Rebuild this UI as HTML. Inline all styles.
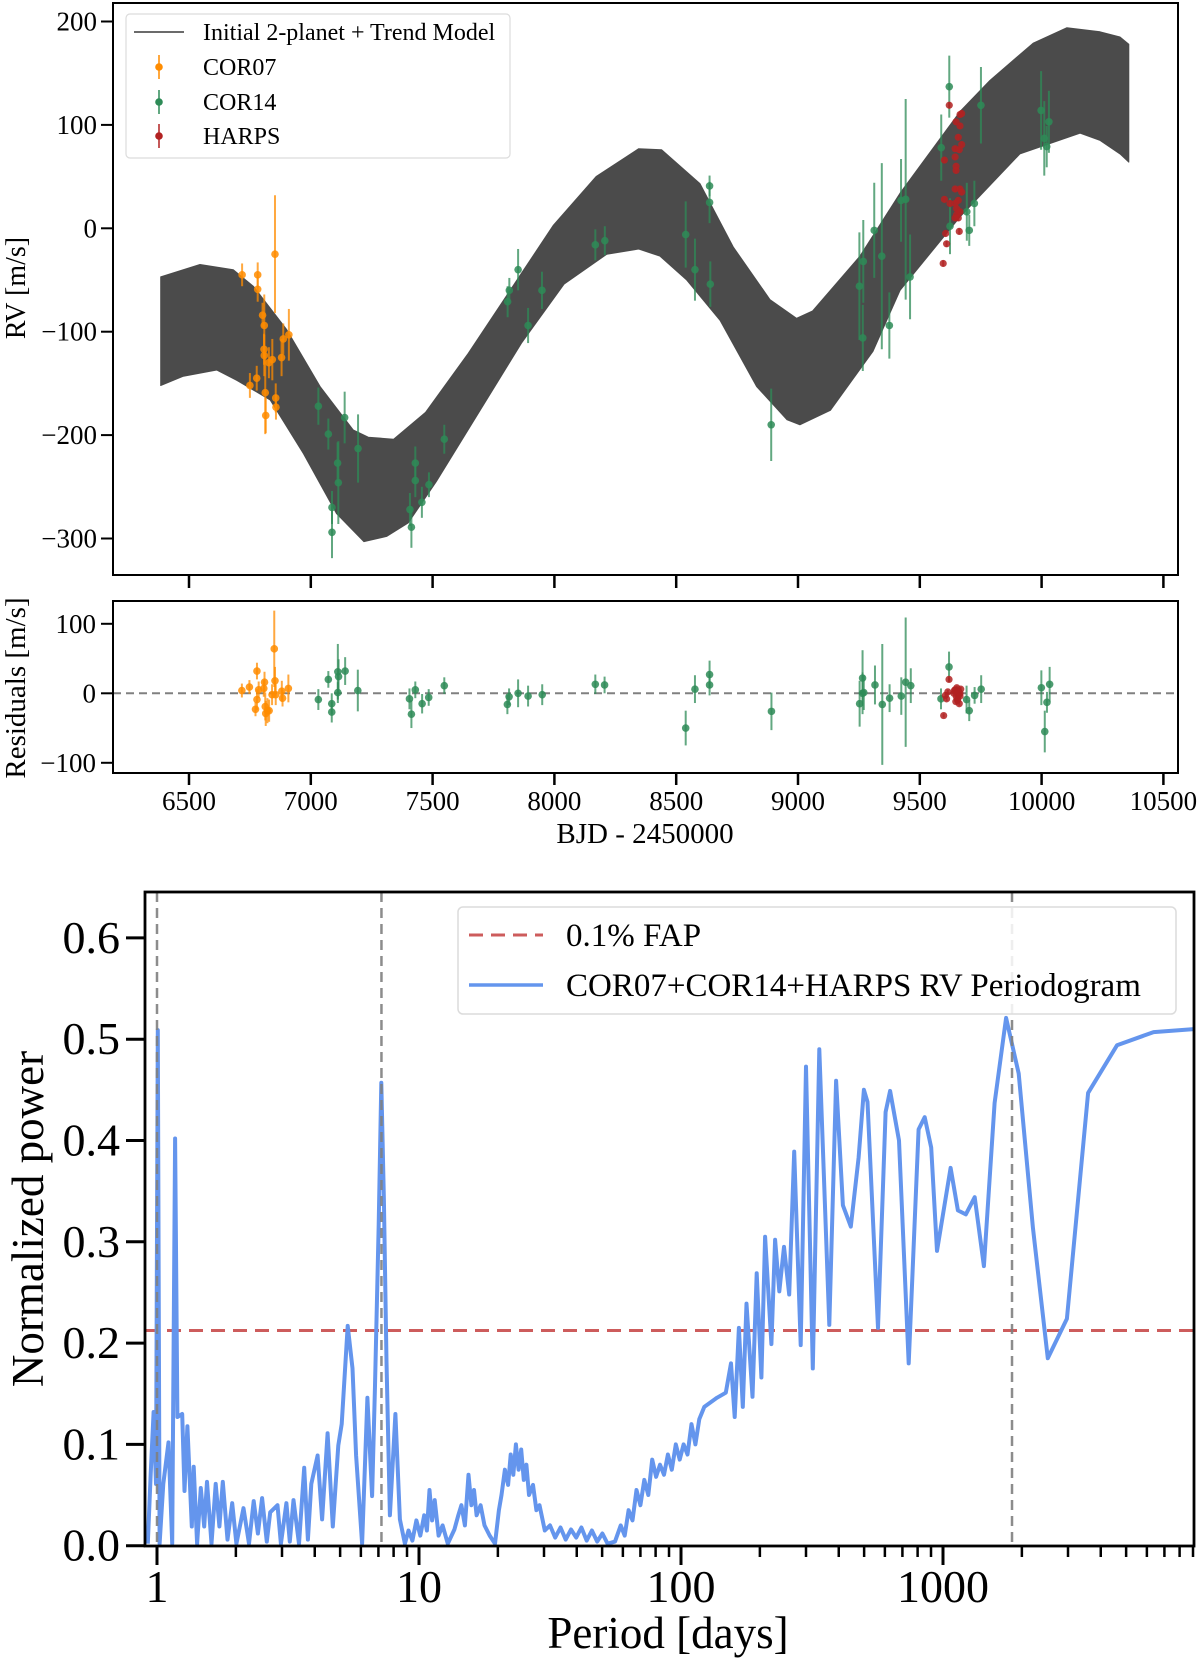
<!DOCTYPE html>
<html><head><meta charset="utf-8">
<style>
html,body{margin:0;padding:0;background:#fff;}
svg{display:block;font-family:"Liberation Serif","DejaVu Serif",serif;}
</style></head>
<body>
<svg id="chart" width="1200" height="1669" viewBox="0 0 1200 1669" xmlns="http://www.w3.org/2000/svg">
  <rect x="0" y="0" width="1200" height="1669" fill="#fff"/>
  <g id="gTop"></g>
  <g id="gRes"></g>
  <g id="gPer"></g>
  <text x="25" y="288" transform="rotate(-90 25 288)" font-size="28" text-anchor="middle">RV [m/s]</text>
  <text x="25" y="688" transform="rotate(-90 25 688)" font-size="29" text-anchor="middle">Residuals [m/s]</text>
  <text x="645" y="843" font-size="29" text-anchor="middle">BJD - 2450000</text>
  <text x="43" y="1219" transform="rotate(-90 43 1219)" font-size="45" text-anchor="middle">Normalized power</text>
  <text x="668" y="1648" font-size="45" text-anchor="middle">Period [days]</text>
</svg>
<script>
// ---------- RV panel data ----------
const bandUpperTime = [6384,6545,6627,6682,6764,6901,7038,7174,7236,7340,7471,7646,7821,7996,8171,8346,8440,8598,8734,8885,8994,9060,9254,9419,9665,9788,9965,10104,10240,10322,10358];
const bandUpperRV = [-47,-35,-38,-40,-56,-98,-153,-195,-202,-204,-178,-121,-59,3,50,77,76,43,-18,-69,-87,-80,-27,34,113,143,179,194,190,185,178];
const bandLowerTime = [6384,6477,6614,6696,6833,6970,7106,7218,7311,7400,7515,7690,7865,8040,8215,8346,8434,8543,8680,8830,8954,9008,9133,9308,9419,9665,9911,10158,10240,10322,10358];
const bandLowerRV = [-152,-143,-137,-147,-166,-218,-276,-303,-298,-285,-245,-178,-111,-54,-25,-20,-27,-50,-89,-153,-185,-190,-176,-119,-60,11,72,92,85,72,64];

const cor07Time = [6718,6782,6782,6853,6802,6809,6887,6910,6808,6809,6880,6842,6828,6778,6750,6813,6856,6857,6815];
const cor07RV = [-45,-45,-59,-25,-84,-94,-107,-103,-117,-123,-125,-127,-130,-145,-152,-159,-164,-173,-181];
const cor07Err = [11,12,12,57,12,30,15,25,15,20,18,20,15,12,12,40,14,12,17];

const cor14Time = [7031,7072,7139,7110,7113,7194,7087,7087,7407,7413,7429,7429,7456,7485,7548,7808,7815,7851,7892,7949,8168,8207,8539,8577,8640,8637,8637,8890,9252,9268,9266,9313,9344,9375,9423,9442,9460,9588,9621,9624,9693,9703,9724,9751,9998,10030,10011,10021];
const cor14RV = [-172,-199,-183,-227,-246,-213,-270,-294,-272,-289,-227,-244,-265,-248,-204,-71,-60,-40,-94,-60,-16,-12,-6,-40,-54,25,41,-190,-56,-32,-106,-2,-27,-94,27,28,-47,78,137,2,16,-2,24,119,114,103,87,79];
const cor14Err = [18,15,25,20,40,33,16,25,16,20,16,16,15,12,14,15,12,20,17,18,15,14,32,30,22,20,10,35,52,40,32,46,90,32,40,97,41,32,30,27,28,15,22,37,38,30,36,20];

const harpsTime = [9621,9665,9672,9649,9665,9658,9672,9645,9662,9601,9645,9649,9649,9645,9665,9672,9601,9658,9645,9624,9651,9665,9651,9658,9645,9606,9662,9610,9596];
const harpsRV = [119,110,111,103,99,88,81,77,76,66,69,60,56,38,38,35,28,27,24,24,19,16,13,10,10,-5,-3,-15,-34];

// ---------- residuals data ----------
const cor07ResTime = [6717,6748,6779,6779,6773,6786,6807,6810,6813,6815,6822,6829,6841,6850,6853,6856,6881,6884,6908];
const cor07Res = [4,9,32,-9,-23,5,7,16,-19,-29,-25,-25,-2,64,18,-2,3,-7,7];
const cor07ResErr = [10,10,12,15,10,12,12,15,20,18,18,16,15,55,20,15,15,12,20];
const cor14ResTime = [7031,7072,7086,7086,7111,7114,7111,7141,7193,7405,7413,7429,7457,7484,7548,7807,7814,7851,7892,7950,8168,8206,8539,8577,8637,8637,8891,9253,9265,9265,9270,9316,9346,9376,9424,9442,9463,9587,9620,9692,9703,9725,9752,9999,10022,10013,10033];
const cor14Res = [-9,20,-15,-27,31,24,1,32,4,-8,-30,5,-15,-6,11,-16,-5,0,-4,-2,13,12,-50,6,27,12,-26,-15,22,0,1,12,-16,-7,-4,16,11,-8,38,-9,-25,-3,6,8,-13,-55,13];
const cor14ResErr = [15,12,15,15,40,25,15,20,30,15,20,12,14,12,12,14,12,20,15,15,14,12,25,20,20,15,27,33,40,30,25,28,87,20,27,93,25,15,22,20,15,12,20,25,15,30,25];
const harpsResTime = [9620,9598,9605,9610,9615,9640,9645,9650,9652,9655,9658,9660,9662,9665,9668,9648,9655,9660,9665,9642];
const harpsRes = [20,-32,-3,-8,2,0,5,-5,8,-10,3,-2,-15,0,6,-12,-8,2,-4,4];

// ---------- periodogram data ----------
const periodLog10 = [-0.035,-0.024,-0.013,-0.004,0.003,0.010,0.024,0.044,0.058,0.069,0.078,0.096,0.105,0.116,0.133,0.140,0.153,0.167,0.180,0.191,0.208,0.224,0.238,0.251,0.269,0.287,0.303,0.330,0.351,0.369,0.385,0.401,0.419,0.432,0.460,0.473,0.494,0.507,0.521,0.542,0.562,0.576,0.589,0.613,0.630,0.651,0.671,0.692,0.705,0.728,0.746,0.760,0.783,0.803,0.821,0.832,0.846,0.856,0.866,0.876,0.889,0.910,0.927,
 0.946,0.960,0.975,0.990,1.005,1.020,1.030,1.040,1.050,1.060,1.075,1.090,1.110,1.135,1.150,1.162,1.175,1.189,1.200,1.210,1.220,1.235,1.250,1.270,1.290,1.305,1.315,1.328,1.340,1.350,1.360,1.370,1.380,1.390,1.400,1.410,1.420,1.435,1.448,1.460,1.480,1.500,1.520,1.540,1.560,1.580,1.600,1.620,1.640,1.660,1.680,1.700,1.720,1.748,1.770,1.785,1.800,1.815,1.830,1.845,1.860,1.875,1.890,1.905,1.920,1.935,1.950,1.965,1.980,1.995,2.010,2.025,2.040,2.055,2.070,
 2.089,2.137,2.171,2.191,2.205,2.221,2.236,2.250,2.273,2.289,2.307,2.321,2.345,2.359,2.375,2.393,2.413,2.432,2.457,2.477,2.503,2.528,2.566,2.592,2.618,2.648,2.678,2.698,2.712,2.752,2.781,2.798,2.832,2.869,2.907,2.930,2.955,2.977,3.029,3.057,3.087,3.121,3.156,3.197,3.241,3.289,3.343,3.400,3.473,3.554,3.664,3.804,3.957];
const powerValues = [0.002,0.071,0.132,0.061,0.509,0.002,0.061,0.102,0.002,0.402,0.127,0.130,0.054,0.118,0.019,0.078,0.002,0.057,0.019,0.063,0.002,0.061,0.019,0.063,0.006,0.042,0.002,0.037,0.002,0.044,0.012,0.047,0.004,0.033,0.040,0.002,0.042,0.004,0.045,0.002,0.077,0.006,0.061,0.089,0.026,0.111,0.019,0.099,0.120,0.217,0.175,0.089,0.002,0.146,0.049,0.158,0.317,0.457,0.341,0.182,0.030,0.130,0.026,
 0.002,0.015,0.005,0.025,0.010,0.030,0.015,0.055,0.025,0.045,0.010,0.020,0.002,0.016,0.030,0.040,0.020,0.070,0.040,0.055,0.030,0.040,0.020,0.010,0.002,0.035,0.050,0.075,0.060,0.090,0.070,0.100,0.075,0.095,0.065,0.080,0.050,0.060,0.035,0.040,0.015,0.020,0.008,0.018,0.006,0.016,0.008,0.018,0.005,0.015,0.004,0.012,0.002,0.004,0.020,0.010,0.035,0.025,0.055,0.040,0.065,0.050,0.085,0.068,0.080,0.070,0.090,0.075,0.100,0.085,0.100,0.090,0.120,0.100,0.125,
 0.137,0.146,0.151,0.180,0.127,0.215,0.137,0.239,0.147,0.269,0.166,0.305,0.199,0.302,0.251,0.295,0.248,0.389,0.198,0.473,0.175,0.490,0.218,0.459,0.336,0.315,0.383,0.450,0.438,0.215,0.428,0.449,0.400,0.180,0.411,0.423,0.393,0.291,0.373,0.331,0.327,0.344,0.276,0.437,0.521,0.466,0.314,0.185,0.224,0.447,0.494,0.507,0.510];
const faplevel = [0.2125];
const markedPeriods = [1.0, 7.19, 1834];

// tick arrays
const rvTicks = [200,100,0,-100,-200,-300];
const rvTickLabels = ["200","100","0","\u2212100","\u2212200","\u2212300"];
const resTicks = [100,0,-100];
const resTickLabels = ["100","0","\u2212100"];
const timeTicks = [6500,7000,7500,8000,8500,9000,9500,10000,10500];
const powerTicks = [0,0.1,0.2,0.3,0.4,0.5,0.6];
const powerTickLabels = ["0.0","0.1","0.2","0.3","0.4","0.5","0.6"];
const periodMajor = [1,10,100,1000];
const periodMajorLabels = ["1","10","100","1000"];

// ---------- scales ----------
const xT = t => 189 + (t - 6500) * 0.2436;
const yRV = v => 228.3 - v * 1.034;
const yR = v => 693.3 - v * 0.695;
const xP = lp => 157 + lp * 262;
const yP = p => 1545.7 - p * 1013;

const NS = "http://www.w3.org/2000/svg";
function mk(tag, attrs, parent) {
  const e = document.createElementNS(NS, tag);
  for (const k in attrs) e.setAttribute(k, attrs[k]);
  parent.appendChild(e);
  return e;
}
const gTop = document.getElementById('gTop');
const gRes = document.getElementById('gRes');
const gPer = document.getElementById('gPer');

const C07 = "#ff8c00", C14 = "#2e8b57", CH = "#b22222";

// ---------- RV panel ----------
let d = "";
bandUpperTime.forEach((t, i) => { d += (i ? "L" : "M") + xT(t).toFixed(1) + "," + yRV(bandUpperRV[i]).toFixed(1); });
for (let i = bandLowerTime.length - 1; i >= 0; i--) d += "L" + xT(bandLowerTime[i]).toFixed(1) + "," + yRV(bandLowerRV[i]).toFixed(1);
d += "Z";
const band = mk('path', {d: d, fill: "#4b4b4b", stroke: "#4b4b4b", "stroke-width": 1, "stroke-linejoin": "round"}, gTop);



function drawPoints(g, ts, vs, es, color, yf, name, r) {
  ts.forEach((t, i) => {
    const x = xT(t), y = yf(vs[i]);
    if (es) {
      const eb = mk('line', {x1: x, x2: x, y1: yf(vs[i] + es[i]), y2: yf(vs[i] - es[i]), stroke: color, "stroke-width": 2, opacity: 0.75}, g);
      
      
    }
    const c = mk('circle', {cx: x, cy: y, r: r, fill: color, opacity: 0.85}, g);
    
    
  });
}
drawPoints(gTop, cor07Time, cor07RV, cor07Err, C07, yRV, 'cor07', 3.8);
drawPoints(gTop, cor14Time, cor14RV, cor14Err, C14, yRV, 'cor14', 3.8);
drawPoints(gTop, harpsTime, harpsRV, harpsRV.map(() => 3), CH, yRV, 'harps', 3.6);

const f1 = mk('rect', {x: 113, y: 3, width: 1065, height: 572, fill: "none", stroke: "#000", "stroke-width": 2}, gTop);



rvTicks.forEach((v, i) => {
  const tk = mk('line', {x1: 101, x2: 113, y1: yRV(v), y2: yRV(v), stroke: "#000", "stroke-width": 2}, gTop);
  
  
  const lb = mk('text', {x: 97, y: yRV(v) + 9, "font-size": 27, "text-anchor": "end"}, gTop);
  lb.textContent = rvTickLabels[i];
  
  
});
timeTicks.forEach(t => {
  const tk = mk('line', {x1: xT(t), x2: xT(t), y1: 575, y2: 588, stroke: "#000", "stroke-width": 2.5}, gTop);
  
  
});

// legend top
const lg = mk('g', {}, gTop);


const lgBox = mk('rect', {x: 126, y: 14, width: 384, height: 144, rx: 4, fill: "#fff", "fill-opacity": 0.85, stroke: "#dcdcdc", "stroke-width": 1.2}, lg);


const lgLine = mk('line', {x1: 134, x2: 184, y1: 32, y2: 32, stroke: "#3a3a3a", "stroke-width": 1.6}, lg);


const legItems = [["Initial 2-planet + Trend Model", 40], ["COR07", 75], ["COR14", 110], ["HARPS", 144]];
const legColors = [null, C07, C14, CH];
legItems.forEach((it, i) => {
  const tx = mk('text', {x: 203, y: it[1], "font-size": 24}, lg);
  tx.textContent = it[0];
  
  
  if (legColors[i]) {
    const cy = it[1] - 8;
    const eb = mk('line', {x1: 159, x2: 159, y1: cy - 12, y2: cy + 12, stroke: legColors[i], "stroke-width": 2, opacity: 0.75}, lg);
    
    
    const c = mk('circle', {cx: 159, cy: cy, r: 3.8, fill: legColors[i]}, lg);
    
    
  }
});

// ---------- residuals ----------
const zl = mk('line', {x1: 113, x2: 1178, y1: yR(0), y2: yR(0), stroke: "#808080", "stroke-width": 2, "stroke-dasharray": "8,5"}, gRes);


drawPoints(gRes, cor07ResTime, cor07Res, cor07ResErr, C07, yR, 'cor07-residual', 3.8);
drawPoints(gRes, cor14ResTime, cor14Res, cor14ResErr, C14, yR, 'cor14-residual', 3.8);
drawPoints(gRes, harpsResTime, harpsRes, harpsRes.map(() => 3), CH, yR, 'harps-residual', 3.6);
const f2 = mk('rect', {x: 113, y: 601, width: 1065, height: 172, fill: "none", stroke: "#000", "stroke-width": 2}, gRes);


resTicks.forEach((v, i) => {
  const tk = mk('line', {x1: 101, x2: 113, y1: yR(v), y2: yR(v), stroke: "#000", "stroke-width": 2}, gRes);
  
  
  const lb = mk('text', {x: 96, y: yR(v) + 9, "font-size": 27, "text-anchor": "end"}, gRes);
  lb.textContent = resTickLabels[i];
  
  
});
timeTicks.forEach(t => {
  const tk = mk('line', {x1: xT(t), x2: xT(t), y1: 773, y2: 785, stroke: "#000", "stroke-width": 2.5}, gRes);
  
  
  const lb = mk('text', {x: xT(t), y: 810, "font-size": 27, "text-anchor": "middle"}, gRes);
  lb.textContent = String(t);
  
  
});

// ---------- periodogram ----------
const yFap = yP(faplevel[0]);
const fap = mk('line', {x1: 145, x2: 1194, y1: yFap, y2: yFap, stroke: "#cd5c5c", "stroke-width": 3, "stroke-dasharray": "14,8"}, gPer);



let pd = "";
periodLog10.forEach((lp, i) => { pd += (i ? "L" : "M") + xP(lp).toFixed(1) + "," + yP(powerValues[i]).toFixed(1); });
const per = mk('path', {d: pd, fill: "none", stroke: "#6495ed", "stroke-width": 4, "stroke-linejoin": "round"}, gPer);



markedPeriods.forEach(p => {
  const x = xP(Math.log10(p));
  const vl = mk('line', {x1: x, x2: x, y1: 892, y2: 1546, stroke: "#808080", "stroke-width": 2.5, "stroke-dasharray": "10,6", opacity: 0.9}, gPer);
  
  
});

const f3 = mk('rect', {x: 145, y: 892, width: 1049, height: 654, fill: "none", stroke: "#000", "stroke-width": 2.8}, gPer);



powerTicks.forEach((v, i) => {
  const tk = mk('line', {x1: 126, x2: 145, y1: yP(v), y2: yP(v), stroke: "#000", "stroke-width": 3}, gPer);
  
  
  const lb = mk('text', {x: 120, y: yP(v) + 15, "font-size": 46, "text-anchor": "end"}, gPer);
  lb.textContent = powerTickLabels[i];
  
  
});
periodMajor.forEach((p, i) => {
  const x = xP(Math.log10(p));
  const tk = mk('line', {x1: x, x2: x, y1: 1546, y2: 1565, stroke: "#000", "stroke-width": 3}, gPer);
  
  
  const lb = mk('text', {x: x, y: 1602, "font-size": 46, "text-anchor": "middle"}, gPer);
  lb.textContent = periodMajorLabels[i];
  
  
});
periodMajor.forEach(p => {
  for (let k = 2; k <= 9; k++) {
    const x = xP(Math.log10(p * k));
    if (x > 1194) continue;
    const tk = mk('line', {x1: x, x2: x, y1: 1546, y2: 1557, stroke: "#000", "stroke-width": 2.5}, gPer);
    
    
  }
});

// legend bottom
const lg2 = mk('g', {}, gPer);


const lb2 = mk('rect', {x: 458, y: 907, width: 718, height: 107, rx: 5, fill: "#fff", "fill-opacity": 0.85, stroke: "#dcdcdc", "stroke-width": 1.5}, lg2);


const s1 = mk('line', {x1: 469, x2: 543, y1: 935, y2: 935, stroke: "#cd5c5c", "stroke-width": 3, "stroke-dasharray": "14,8"}, lg2);


const t1 = mk('text', {x: 566, y: 946, "font-size": 33}, lg2);
t1.textContent = "0.1% FAP";


const s2 = mk('line', {x1: 469, x2: 543, y1: 985, y2: 985, stroke: "#6495ed", "stroke-width": 3.5}, lg2);


const t2 = mk('text', {x: 566, y: 996, "font-size": 33}, lg2);
t2.textContent = "COR07+COR14+HARPS RV Periodogram";


</script>
</body></html>
